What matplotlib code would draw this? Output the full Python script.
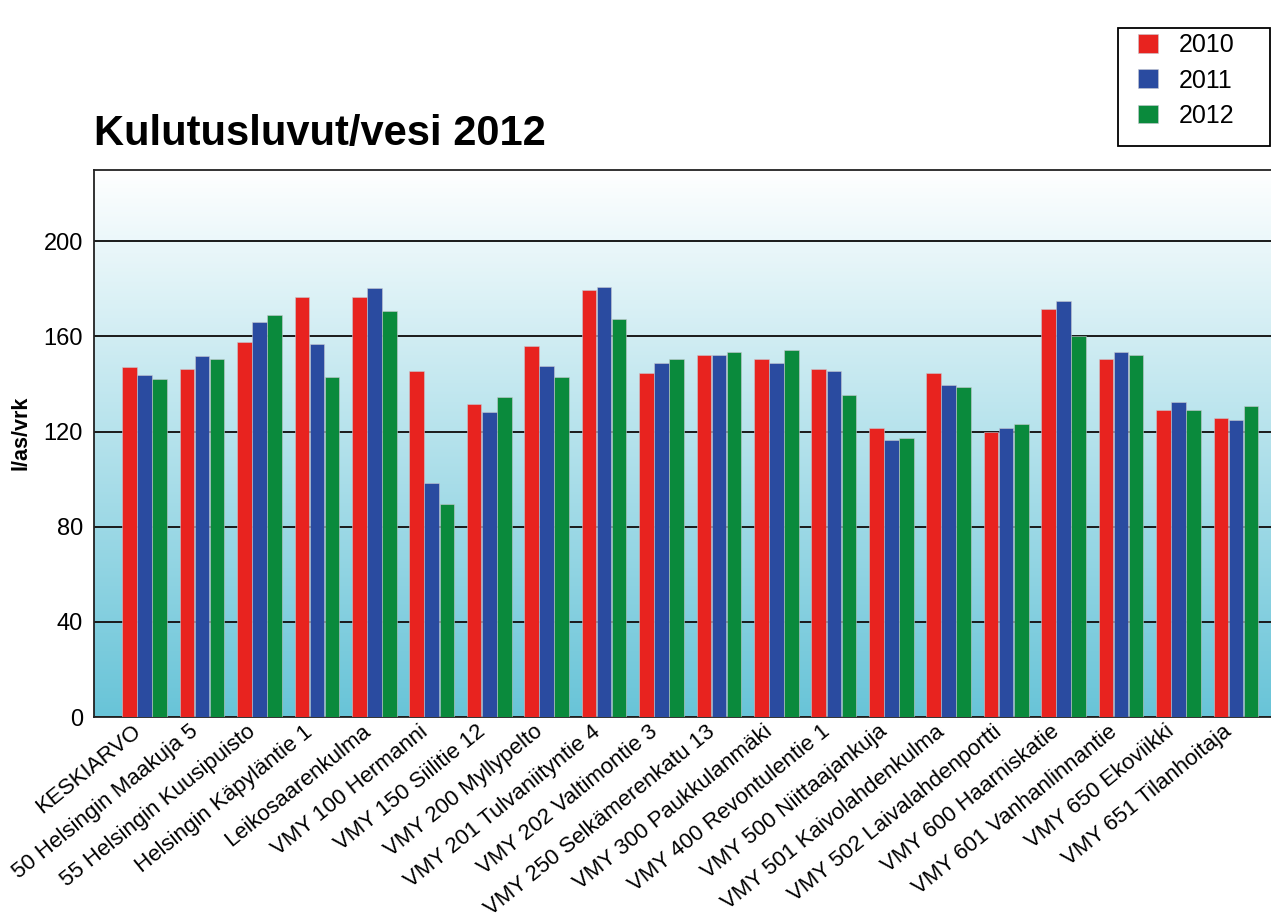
import numpy as np
import matplotlib
matplotlib.use('Agg')
import matplotlib.pyplot as plt
from matplotlib.colors import LinearSegmentedColormap
from matplotlib.patches import Rectangle

plt.rcParams['font.family'] = ['Liberation Sans', 'DejaVu Sans']

# water use per resident per day
sites = ['KESKIARVO', '50 Helsingin Maakuja 5', '55 Helsingin Kuusipuisto',
         'Helsingin Käpyläntie 1', 'Leikosaarenkulma', 'VMY 100 Hermanni',
         'VMY 150 Siilitie 12', 'VMY 200 Myllypelto', 'VMY 201 Tulvaniityntie 4',
         'VMY 202 Valtimontie 3', 'VMY 250 Selkämerenkatu 13', 'VMY 300 Paukkulanmäki',
         'VMY 400 Revontulentie 1', 'VMY 500 Niittaajankuja', 'VMY 501 Kaivolahdenkulma',
         'VMY 502 Laivalahdenportti', 'VMY 600 Haarniskatie', 'VMY 601 Vanhanlinnantie',
         'VMY 650 Ekoviikki', 'VMY 651 Tilanhoitaja']

v2010 = [147, 146.5, 157.6, 176.6, 176.6, 145.7, 131.8, 156, 179.4, 144.8,
         152.4, 150.7, 146.5, 121.5, 144.7, 119.9, 171.4, 150.7, 129.1, 125.7]
v2011 = [143.9, 151.7, 166.3, 156.9, 180.2, 98.5, 128.4, 147.4, 181, 149,
         152.4, 149, 145.7, 116.3, 139.6, 121.5, 175, 153.5, 132.6, 124.8]
v2012 = [142.2, 150.7, 169, 143, 170.7, 89.7, 134.4, 143, 167.2, 150.7,
         153.4, 154.4, 135.3, 117.2, 138.8, 123.1, 160.3, 152.4, 129.1, 130.9]

years = ['2010', '2011', '2012']
colors = ['#e8231f', '#2a4ba0', '#0a8a3c']

fig = plt.figure(figsize=(12.71, 9.24), dpi=100)
ax = fig.add_axes([0.074, 0.224, 0.93, 0.592])

x = np.arange(len(sites))
xmin, xmax = -0.88, 19.7
ymin, ymax = 0, 230

# background gradient white -> cyan
grad = np.linspace(1, 0, 256).reshape(-1, 1)
cmap = LinearSegmentedColormap.from_list('bg', ['#68c4d8', '#ffffff'])
ax.imshow(grad, cmap=cmap, aspect='auto', extent=[xmin, xmax, ymin, ymax],
          origin='upper', zorder=0)

w = 0.255
for i, (vals, c, lab) in enumerate(zip([v2010, v2011, v2012], colors, years)):
    ax.bar(x + (i - 1) * 0.262, vals, width=w, color=c, label=lab, zorder=3,
           edgecolor='#c8c8d0', linewidth=0.4)

ax.set_xlim(xmin, xmax)
ax.set_ylim(ymin, ymax)
ax.set_yticks([0, 40, 80, 120, 160, 200])
ax.yaxis.grid(True, color='#1a1a1a', linewidth=1.4, zorder=1)
ax.set_axisbelow(True)
ax.tick_params(axis='y', length=0, labelsize=17, pad=8)
ax.tick_params(axis='x', length=0, labelsize=16, pad=3)
ax.set_xticks(x)
ax.set_xticklabels(sites, rotation=39, ha='right')
for s in ax.spines.values():
    s.set_color('#222222')
    s.set_linewidth(1.3)
ax.spines['right'].set_visible(False)

ax.set_ylabel('l/as/vrk', fontsize=15.5, fontweight='bold')
ax.yaxis.set_label_coords(-0.053, 0.52)

fig.text(0.074, 0.843, 'Kulutusluvut/vesi 2012', fontsize=30, fontweight='bold',
         ha='left', va='baseline')

# legend without its own frame, box drawn separately
leg = fig.legend(loc='upper left', bbox_to_anchor=(0.8955, 0.964), fontsize=18,
                 frameon=False, handlelength=0.78, handleheight=0.78,
                 handletextpad=0.85, borderpad=0, labelspacing=0.45,
                 borderaxespad=0)
fig.patches.append(Rectangle((0.8796, 0.842), 0.1196, 0.1277,
                             transform=fig.transFigure, fill=False,
                             edgecolor='black', linewidth=1.3))

fig.savefig('out.png', dpi=100)
